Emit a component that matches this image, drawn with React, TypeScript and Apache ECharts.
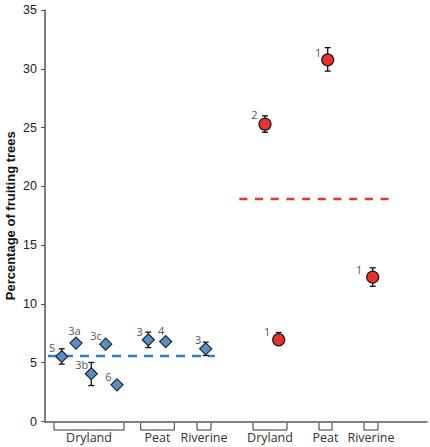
import React, { useEffect, useRef } from "react";
import * as echarts from "echarts";

// Group brackets below the axis: [start, end] on the hidden x scale, with labels
const groupLabels = ["Dryland", "Peat", "Riverine", "Dryland", "Peat", "Riverine"];
const groupStart = [9, 95.7, 152, 208, 274, 319];
const groupEnd = [79, 129.3, 166, 242, 287, 333];

// Blue (diamond) points
const blueNames = ["5", "3a", "3b", "3c", "6", "3", "4", "3"];
const blueX = [16.7, 31, 46.3, 60.7, 72, 103.3, 120.7, 160.7];
const blueY = [5.53, 6.67, 4.06, 6.58, 3.12, 6.95, 6.8, 6.18];
const blueLow = [4.88, null, 3.06, null, null, 6.29, null, 5.61];
const blueHigh = [6.18, null, 5.02, null, null, 7.6, null, 6.75];
const blueMean = 5.58;
const blueMeanRange = [3, 170];

// Red (circle) points
const redNames = ["2", "1", "1", "1"];
const redX = [220, 233.7, 282.7, 327.7];
const redY = [25.29, 6.95, 30.76, 12.28];
const redLow = [24.6, 6.47, 29.8, 11.5];
const redHigh = [26.0, 7.57, 31.8, 13.07];
const redMean = 18.93;
const redMeanRange = [194.3, 345];

// Label offsets (label centre relative to marker centre, px)
const blueLabelOffset = [[-9, -8], [-1, -12], [-9, -9], [-9, -8], [-8, -8], [-8, -8], [-4, -10], [-7, -9]];
const redLabelOffset = [[-10, -9], [-11, -8], [-9, -7], [-13, -7]];

const yTicks = { min: 0, max: 35, interval: 5 };

export default function App() {
  const ref = useRef<HTMLDivElement>(null);
  useEffect(() => {
    if (!ref.current) return;
    const chart = echarts.init(ref.current, null, { renderer: "svg" });

    const labelStyle = {
      show: true,
      formatter: (p: any) => p.name,
      fontFamily: "Open Sans",
      fontSize: 11,
      color: "#555",
      align: "center",
      verticalAlign: "middle",
    };

    const makePoints = (names: string[], xs: number[], ys: number[], offs: number[][], size: number) =>
      xs.map((x, i) => ({
        value: [x, ys[i]],
        name: names[i],
        label: {
          ...labelStyle,
          position: [size / 2 + offs[i][0], size / 2 + offs[i][1]],
        },
      }));

    const errData = (xs: number[], lo: (number | null)[], hi: (number | null)[]) =>
      xs
        .map((x, i) => (lo[i] == null ? null : [x, lo[i], hi[i]]))
        .filter((d) => d != null);

    const errRender = (params: any, api: any) => {
      const x = api.value(0);
      const lo = api.coord([x, api.value(1)]);
      const hi = api.coord([x, api.value(2)]);
      const cw = 3;
      const st = { stroke: "#111", lineWidth: 1.3 };
      return {
        type: "group",
        children: [
          { type: "line", shape: { x1: lo[0], y1: lo[1], x2: hi[0], y2: hi[1] }, style: st },
          { type: "line", shape: { x1: lo[0] - cw, y1: lo[1], x2: lo[0] + cw, y2: lo[1] }, style: st },
          { type: "line", shape: { x1: hi[0] - cw, y1: hi[1], x2: hi[0] + cw, y2: hi[1] }, style: st },
        ],
      };
    };

    chart.setOption({
      animation: false,
      backgroundColor: "#fff",
      grid: { left: 45, right: 3, top: 10, bottom: 25.5, outerBoundsMode: "none", containLabel: false },
      xAxis: {
        type: "value",
        min: 0,
        max: 382,
        axisLine: { show: true, lineStyle: { color: "#555", width: 1.5 } },
        axisTick: { show: false },
        axisLabel: { show: false },
        splitLine: { show: false },
      },
      yAxis: {
        type: "value",
        min: yTicks.min,
        max: yTicks.max,
        interval: yTicks.interval,
        axisLine: { show: true, lineStyle: { color: "#555", width: 1.5 } },
        axisTick: { show: true, length: 4, lineStyle: { color: "#555" } },
        axisLabel: { fontFamily: "Liberation Sans", fontSize: 12.5, color: "#222", margin: 8 },
        splitLine: { show: false },
        name: "Percentage of fruiting trees",
        nameLocation: "middle",
        nameGap: 28,
        nameMoveOverlap: false,
        nameTextStyle: { fontFamily: "Liberation Sans", fontSize: 13, fontWeight: "bold", color: "#111" },
      },
      series: [
        {
          type: "custom",
          clip: false,
          silent: true,
          data: groupLabels.map((l, i) => [groupStart[i], groupEnd[i], l]),
          renderItem: (params: any, api: any) => {
            const p1 = api.coord([api.value(0), 0]);
            const p2 = api.coord([api.value(1), 0]);
            const y0 = p1[1];
            const label = groupLabels[params.dataIndex];
            return {
              type: "group",
              children: [
                {
                  type: "polyline",
                  shape: { points: [[p1[0], y0 + 1.5], [p1[0], y0 + 8.5], [p2[0], y0 + 8.5], [p2[0], y0 + 1.5]] },
                  style: { stroke: "#333", lineWidth: 1, fill: null },
                },
                {
                  type: "text",
                  style: {
                    text: label,
                    x: (p1[0] + p2[0]) / 2,
                    y: y0 + 16,
                    align: "center",
                    verticalAlign: "middle",
                    fontFamily: "Open Sans",
                    fontSize: 12.5,
                    fill: "#333",
                  },
                },
              ],
            };
          },
        },
        {
          type: "line",
          data: [[blueMeanRange[0], blueMean], [blueMeanRange[1], blueMean]],
          symbol: "none",
          lineStyle: { color: "#2f7fc6", width: 2.5, type: [9, 7] },
          z: 1,
        },
        {
          type: "line",
          data: [[redMeanRange[0], redMean], [redMeanRange[1], redMean]],
          symbol: "none",
          lineStyle: { color: "#e0363a", width: 2.5, type: [8, 7.7] },
          z: 1,
        },
        {
          type: "custom",
          clip: false,
          data: errData(blueX, blueLow, blueHigh),
          renderItem: errRender,
          z: 2,
        },
        {
          type: "custom",
          clip: false,
          data: errData(redX, redLow, redHigh),
          renderItem: errRender,
          z: 2,
        },
        {
          type: "scatter",
          symbol: "diamond",
          symbolSize: 12,
          itemStyle: { color: "#5a8ec9", borderColor: "#1b2633", borderWidth: 1.2, opacity: 1 },
          label: labelStyle,
          data: makePoints(blueNames, blueX, blueY, blueLabelOffset, 12),
          z: 3,
        },
        {
          type: "scatter",
          symbol: "circle",
          symbolSize: 12,
          itemStyle: { color: "#e8322a", borderColor: "#1b1b1b", borderWidth: 1.2, opacity: 1 },
          label: labelStyle,
          data: makePoints(redNames, redX, redY, redLabelOffset, 12),
          z: 3,
        },
      ],
    });
    return () => chart.dispose();
  }, []);
  return <div ref={ref} style={{ width: 430, height: 447, position: "absolute", left: 0, top: 0 }} />;
}
